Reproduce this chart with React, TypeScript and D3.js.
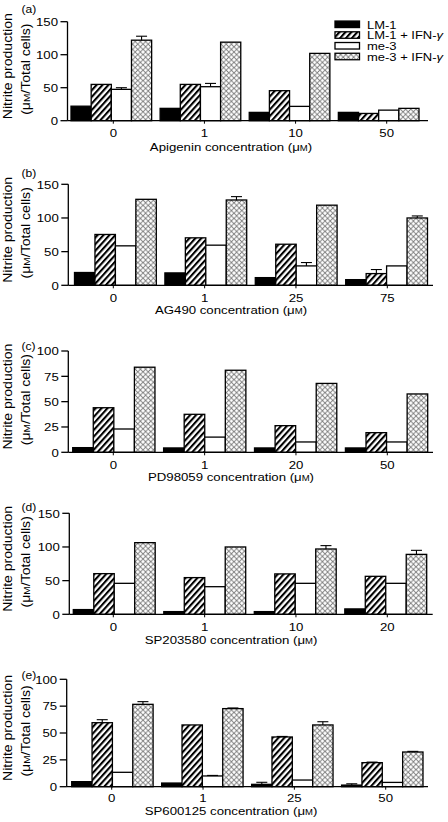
import React from "react";
import * as d3 from "d3";

const seriesKeys = ["LM1", "LM1IFN", "me3", "me3IFN"];
const seriesNames = ["LM-1", "LM-1 + IFN-", "me-3", "me-3 + IFN-"];
const seriesGamma = [false, true, false, true];

// Panel (a) Apigenin
const aTicks = ["0", "1", "10", "50"];
const aLM1 = [22, 18.7, 12.6, 12.6];
const aLM1IFN = [55, 55, 45.5, 11];
const aMe3 = [47.5, 51.5, 21.7, 16];
const aMe3IFN = [122, 119, 102, 18.7];
const aErrMe3 = [2.5, 5, 0, 0];
const aErrMe3IFN = [6, 0, 0, 0];

// Panel (b) AG490
const bTicks = ["0", "1", "25", "75"];
const bLM1 = [19, 18.4, 11.4, 8.4];
const bLM1IFN = [75.5, 70.5, 61, 17.4];
const bMe3 = [58.6, 59.6, 28.8, 28.8];
const bMe3IFN = [127.7, 126.7, 119, 100];
const bErrLM1IFN = [0, 0, 0, 6];
const bErrMe3 = [0, 0, 5, 0];
const bErrMe3IFN = [0, 5, 0, 3];

// Panel (c) PD98059
const cTicks = ["0", "1", "20", "50"];
const cLM1 = [4.6, 4.3, 4.3, 4.3];
const cLM1IFN = [44, 37.5, 26.3, 19.4];
const cMe3 = [23, 15, 10.2, 10.2];
const cMe3IFN = [84, 81, 68, 57.6];

// Panel (d) SP203580
const dTicks = ["0", "1", "10", "20"];
const dLM1 = [7, 4, 4, 8];
const dLM1IFN = [60.4, 54.5, 60, 56.4];
const dMe3 = [46, 41, 46, 46];
const dMe3IFN = [106.4, 100, 97, 89];
const dErrMe3IFN = [0, 0, 5, 6];

// Panel (e) SP600125
const eTicks = ["0", "1", "25", "50"];
const eLM1 = [4.7, 3.4, 2.2, 1.5];
const eLM1IFN = [59.6, 57.5, 46.3, 22.4];
const eMe3 = [13.4, 10, 6.2, 4];
const eMe3IFN = [76.7, 72.7, 57.5, 32.3];
const eErrLM1 = [0, 0, 1.9, 1.2];
const eErrLM1IFN = [2.8, 0, 0.5, 0.5];
const eErrMe3 = [0, 0.5, 0, 0];
const eErrMe3IFN = [2.5, 0.6, 3, 0.6];

const zeros = [0, 0, 0, 0];
const yTicks150 = [0, 50, 100, 150];
const yTicks100 = [0, 25, 50, 75, 100];

const FONT = "'Liberation Sans', Arial, Helvetica, sans-serif";
const FS = 11.5;
const SX = 1.15;

const fills = ["#000", "url(#hatch)", "#fff", "url(#cross)"];

type PanelDef = {
  letter: string;
  drug: string;
  ticks: string[];
  values: number[][];
  errors: number[][];
  yMax: number;
  yTicks: number[];
  L: number; R: number; top: number; bottom: number;
  g0: number; g1: number; l0: number; l1: number;
  tickDy: number; titleY: number; letterY: number;
};

const panels: PanelDef[] = [
  { letter: "(a)", drug: "Apigenin", ticks: aTicks, values: [aLM1, aLM1IFN, aMe3, aMe3IFN], errors: [zeros, zeros, aErrMe3, aErrMe3IFN], yMax: 150, yTicks: yTicks150, L: 67.5, R: 428, top: 21.7, bottom: 120.7, g0: 71, g1: 419, l0: 113.3, l1: 386.7, tickDy: 16.5, titleY: 150.5, letterY: 12.5 },
  { letter: "(b)", drug: "AG490", ticks: bTicks, values: [bLM1, bLM1IFN, bMe3, bMe3IFN], errors: [zeros, bErrLM1IFN, bErrMe3, bErrMe3IFN], yMax: 150, yTicks: yTicks150, L: 68.3, R: 433, top: 184.3, bottom: 285.3, g0: 74.5, g1: 427.5, l0: 113.3, l1: 387.3, tickDy: 16.5, titleY: 314, letterY: 176.5 },
  { letter: "(c)", drug: "PD98059", ticks: cTicks, values: [cLM1, cLM1IFN, cMe3, cMe3IFN], errors: [zeros, zeros, zeros, zeros], yMax: 100, yTicks: yTicks100, L: 68.3, R: 433, top: 351, bottom: 452.3, g0: 72.7, g1: 427.7, l0: 113.3, l1: 387.3, tickDy: 16.5, titleY: 481, letterY: 350 },
  { letter: "(d)", drug: "SP203580", ticks: dTicks, values: [dLM1, dLM1IFN, dMe3, dMe3IFN], errors: [zeros, zeros, zeros, dErrMe3IFN], yMax: 150, yTicks: yTicks150, L: 69.3, R: 432.7, top: 513.3, bottom: 614.3, g0: 73.3, g1: 426.7, l0: 113.3, l1: 387.3, tickDy: 16.5, titleY: 644, letterY: 511 },
  { letter: "(e)", drug: "SP600125", ticks: eTicks, values: [eLM1, eLM1IFN, eMe3, eMe3IFN], errors: [eErrLM1, eErrLM1IFN, eErrMe3, eErrMe3IFN], yMax: 100, yTicks: yTicks100, L: 66.7, R: 428, top: 679.3, bottom: 786.7, g0: 71.7, g1: 423, l0: 111.7, l1: 385.7, tickDy: 15, titleY: 814.5, letterY: 679 },
];

function T(props: { x: number; y: number; anchor?: string; rotate?: boolean; size?: number; sx?: number; children: any }) {
  const { x, y, anchor = "start", rotate = false, size = FS, sx = SX, children } = props;
  const tr = `translate(${x},${y})${rotate ? " rotate(-90)" : ""} scale(${sx},1)`;
  return (
    <text transform={tr} textAnchor={anchor} fontFamily={FONT} fontSize={size} fill="#000">
      {children}
    </text>
  );
}

function Panel({ p }: { p: PanelDef }) {
  const y = d3.scaleLinear().domain([0, p.yMax]).range([p.bottom, p.top]);
  const xg = d3.scaleBand<string>().domain(p.ticks).range([p.g0, p.g1]).paddingInner(0.095);
  const xs = d3.scaleBand<string>().domain(seriesKeys).range([0, xg.bandwidth()]);
  const xl = d3.scalePoint<string>().domain(p.ticks).range([p.l0, p.l1]);
  const center = (p.top + p.bottom) / 2;
  const titleX = 231;
  const YFS = 12.2;
  return (
    <g>
      {p.ticks.map((t, gi) => (
        <g key={t}>
          {seriesKeys.map((s, si) => {
            const v = p.values[si][gi];
            const x0 = (xg(t) as number) + (xs(s) as number);
            const w = xs.bandwidth();
            const e = p.errors[si][gi];
            return (
              <g key={s}>
                <rect x={x0} y={y(v)} width={w} height={y(0) - y(v)} fill={fills[si]} stroke="#000" strokeWidth={1.3} />
                {e > 0 && (
                  <g stroke="#000" strokeWidth={1.1}>
                    <line x1={x0 + w / 2} x2={x0 + w / 2} y1={y(v)} y2={y(v + e)} />
                    <line x1={x0 + w / 2 - 5.5} x2={x0 + w / 2 + 5.5} y1={y(v + e)} y2={y(v + e)} />
                  </g>
                )}
              </g>
            );
          })}
        </g>
      ))}
      {/* y axis */}
      <line x1={p.L} x2={p.L} y1={y(p.yMax)} y2={y(0)} stroke="#000" strokeWidth={1.3} />
      {p.yTicks.map((t) => (
        <g key={t}>
          <line x1={p.L - 7} x2={p.L} y1={y(t)} y2={y(t)} stroke="#000" strokeWidth={1.3} />
          <T x={p.L - 9.5} y={y(t) + 4.2} anchor="end">{String(t)}</T>
        </g>
      ))}
      {/* x axis */}
      <line x1={p.L} x2={p.R} y1={y(0)} y2={y(0)} stroke="#000" strokeWidth={1.3} />
      {p.ticks.map((t) => (
        <g key={t}>
          <line x1={xl(t)} x2={xl(t)} y1={y(0)} y2={y(0) + 3} stroke="#000" strokeWidth={1} />
          <T x={xl(t) as number} y={y(0) + p.tickDy} anchor="middle">{t}</T>
        </g>
      ))}
      <T x={titleX} y={p.titleY} anchor="middle">
        {p.drug + " concentration (μ"}
        <tspan fontSize={FS * 0.72}>M</tspan>
        {")"}
      </T>
      {/* y title */}
      <T x={12} y={center - 5} anchor="middle" rotate size={YFS}>Nitrite production</T>
      <T x={29.5} y={center - 2} anchor="middle" rotate size={YFS}>
        {"(μ"}
        <tspan fontSize={YFS * 0.72}>M</tspan>
        {"/Total cells)"}
      </T>
      <T x={21.5} y={p.letterY} size={10.5}>{p.letter}</T>
    </g>
  );
}

function Legend() {
  const x0 = 335;
  const w = 24.5;
  const h = 6.5;
  const rows = d3.scaleLinear().domain([0, 3]).range([24.3, 56.5]);
  return (
    <g>
      {seriesKeys.map((s, i) => (
        <g key={s}>
          <rect x={x0} y={rows(i) - h / 2} width={w} height={h} fill={fills[i]} stroke="#000" strokeWidth={1.3} />
          <T x={367} y={rows(i) + 4.2} size={11.3}>
            {seriesNames[i]}
            {seriesGamma[i] && <tspan fontStyle="italic">γ</tspan>}
          </T>
        </g>
      ))}
    </g>
  );
}

export default function App() {
  return (
    <svg width={448} height={822} style={{ position: "absolute", left: 0, top: 0, background: "#fff" }}>
      <defs>
        <pattern id="hatch" patternUnits="userSpaceOnUse" width={4.4} height={4.4} patternTransform="rotate(42)">
          <rect x={0} y={0} width={2.3} height={4.4} fill="#000" />
          <rect x={2.3} y={0} width={2.1} height={4.4} fill="#fff" />
        </pattern>
        <pattern id="cross" patternUnits="userSpaceOnUse" width={5.2} height={5.2}>
          <rect width={5.2} height={5.2} fill="#fff" />
          <path d="M0,0L5.2,5.2M5.2,0L0,5.2" stroke="#7a7a7a" strokeWidth={0.9} />
        </pattern>
      </defs>
      <rect width={448} height={822} fill="#fff" />
      {panels.map((p) => (
        <Panel key={p.letter} p={p} />
      ))}
      <Legend />
    </svg>
  );
}
